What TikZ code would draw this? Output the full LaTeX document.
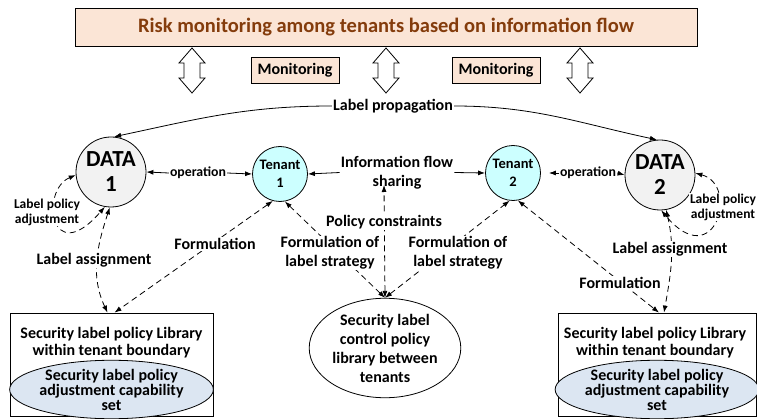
\documentclass[tikz,border=0pt]{standalone}
\usepackage{fontspec}
\setmainfont{Carlito}
\usetikzlibrary{arrows.meta,shapes.geometric}

\definecolor{peach}{HTML}{FBE5D6}
\definecolor{brownish}{HTML}{843C0C}
\definecolor{datagray}{HTML}{F2F2F2}
\definecolor{tenantcyan}{HTML}{CCFFFF}
\definecolor{capblue}{HTML}{DCE6F2}

\tikzset{
  txt/.style={font=\bfseries\fontsize{16}{19}\selectfont, align=center, inner sep=1pt},
  smalltxt/.style={font=\bfseries\fontsize{13.5}{15}\selectfont, align=center, inner sep=1pt},
  optxt/.style={font=\bfseries\fontsize{13.8}{15}\selectfont, align=center, inner sep=1pt},
  cutlbl/.style={txt, fill=white},
  arr/.style={-{Latex[length=7pt,width=5pt]}, line width=0.8pt},
  dd/.style={{Latex[length=7pt,width=5pt]}-{Latex[length=7pt,width=5pt]}, line width=0.8pt, dash pattern=on 6pt off 4pt},
  peachbox/.style={draw, fill=peach, line width=0.8pt},
  datanode/.style={circle, draw, fill=datagray, minimum size=70pt, inner sep=0pt, line width=0.8pt,
    align=center, font=\bfseries\fontsize{23}{25}\selectfont},
  tenantnode/.style={circle, draw, fill=tenantcyan, minimum size=55pt, inner sep=0pt, line width=0.8pt,
    align=center, font=\bfseries\fontsize{14.5}{18}\selectfont},
  capset/.style={ellipse, draw, fill=capblue, inner sep=0pt, line width=0.8pt, align=center,
    font=\bfseries\fontsize{16}{15}\selectfont},
  libbox/.style={draw, line width=0.8pt, minimum height=103pt},
  libtxt/.style={txt, font=\bfseries\fontsize{16}{17}\selectfont},
  updown/.style={draw, fill=white, line width=0.8pt}
}

\begin{document}
\begin{tikzpicture}[x=1pt, y=1pt]
\useasboundingbox (0,0) rectangle (757,418);

% header and monitoring boxes
\node[peachbox, minimum width=622pt, minimum height=38pt, text=brownish,
      font=\bfseries\fontsize{20.5}{24}\selectfont] (title) at (386,391)
      {Risk monitoring among tenants based on information flow};
\node[peachbox, minimum width=88pt, minimum height=26pt, txt, inner sep=0pt] (mon1) at (295,348) {Monitoring};
\node[peachbox, minimum width=88pt, minimum height=26pt, txt, inner sep=0pt] (mon2) at (496,348) {Monitoring};

% hollow two-way arrows under the header
\foreach \x in {192,386,580}{
  \draw[updown] (\x,370) -- ++(13,-15) -- ++(-5,0) -- ++(0,-15) -- ++(5,0)
    -- (\x,325) -- ++(-13,15) -- ++(5,0) -- ++(0,15) -- ++(-5,0) -- cycle;
}

% data and tenant nodes
\node[datanode] (d1) at (111,246) {DATA\\1};
\node[tenantnode] (t1) at (280,244) {Tenant\\1};
\node[tenantnode] (t2) at (513,245) {Tenant\\2};
\node[datanode] (d2) at (660,243) {DATA\\2};

% policy libraries
\node[ellipse, draw, line width=0.8pt, minimum width=144pt, minimum height=96pt, inner sep=0pt,
      txt] (ctrl) at (385,70) {Security label\\control policy\\library between\\tenants};

\node[libbox, minimum width=203pt] (b1) at (111.5,53.5) {};
\node[libtxt] (b1t) at (111.5,75) {Security label policy Library\\within tenant boundary};
\node[capset, minimum width=203pt, minimum height=55pt] (e1) at (111.5,28.5) {Security label policy\\adjustment capability\\set};

\node[libbox, minimum width=198pt] (b2) at (657,53.5) {};
\node[libtxt] (b2t) at (655,75) {Security label policy Library\\within tenant boundary};
\node[capset, minimum width=198pt, minimum height=55pt] (e2) at (657,28.5) {Security label policy\\adjustment capability\\set};

% label propagation
\node[txt] (lp) at (393,312) {Label propagation};
\draw[arr] (lp.west) to[out=180,in=12] (d1.85);
\draw[arr] (lp.east) to[out=0,in=168] (d2.95);

% operations
\node[optxt] (op1) at (198,245) {operation};
\draw[arr] (op1.west) -- (d1.east);
\draw[arr] (op1.east) -- (t1.west);
\node[optxt] (op2) at (588,245) {operation};
\draw[arr] (op2.west) -- ([xshift=8pt]t2.east);
\draw[arr] (op2.east) -- (d2.west);

% information flow sharing
\node[txt] (info) at (397,245.5) {Information flow\\sharing};
\draw[arr] (info.west) -- (t1.east);
\draw[arr] (info.east) -- (t2.west);

% dashed relations
\coordinate (pctip) at (384,233);
\draw[dd] (ctrl.north) -- (pctip);
\draw[dd] (ctrl.north) -- (t1.-80);
\draw[dd] (ctrl.north) -- (t2.-97);
\draw[dd] (t1.-105) -- ([xshift=3pt]b1.north);
\draw[dd] (t2.-80) -- ([xshift=2pt]b2.north);
\draw[dd] (d1.-92) to[out=-108,in=115] ([xshift=-4pt]b1.north);
\draw[dd] (d2.-80) to[out=-77,in=80] ([xshift=7pt]b2.north);
\draw[dd] (d1.185) .. controls (40,228) and (50,148) .. (d1.-100);
\draw[dd] (d2.3) .. controls (740,233) and (715,143) .. (d2.-88);

% labels on the dashed relations
\node[cutlbl] (pc) at (384,196) {Policy constraints};
\node[cutlbl] (fls1) at (330,165) {Formulation of\\label strategy};
\node[cutlbl] (fls2) at (458,165) {Formulation of\\label strategy};
\node[cutlbl] (form1) at (215,174) {Formulation};
\node[cutlbl] (form2) at (620,135) {Formulation};
\node[cutlbl] (la1) at (94,158) {Label assignment};
\node[cutlbl] (la2) at (670,169) {Label assignment};
\node[smalltxt, fill=white] (lpa1) at (47,206) {Label policy\\adjustment};
\node[smalltxt, fill=white] (lpa2) at (723,211) {Label policy\\adjustment};
\end{tikzpicture}
\end{document}
